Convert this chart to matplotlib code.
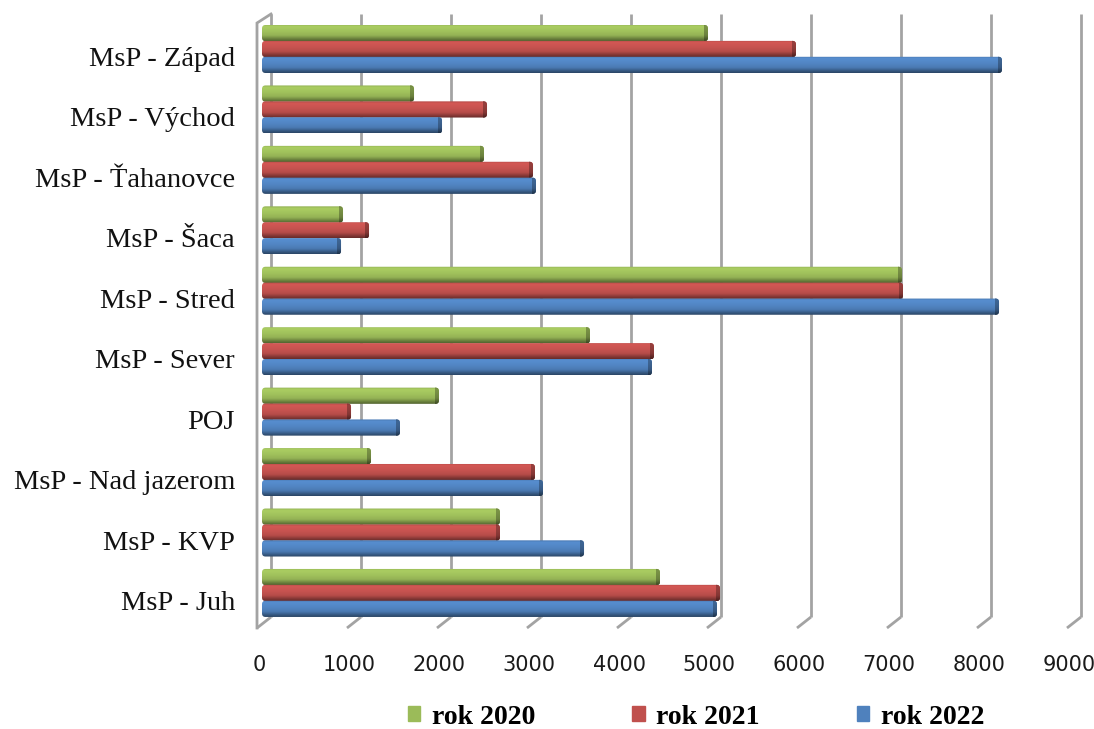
import numpy as np
import matplotlib
matplotlib.use("Agg")
import matplotlib.pyplot as plt
from matplotlib.patches import FancyBboxPatch, Patch
from matplotlib.transforms import Affine2D
from matplotlib.colors import to_rgb

categories = ["MsP - Západ", "MsP - Východ", "MsP - Ťahanovce", "MsP - Šaca", "MsP - Stred",
              "MsP - Sever", "POJ", "MsP - Nad jazerom", "MsP - KVP", "MsP - Juh"]
rok_2020 = [4933, 1667, 2444, 878, 7089, 3622, 1944, 1189, 2622, 4400]
rok_2021 = [5911, 2478, 2989, 1167, 7100, 4333, 967, 3011, 2622, 5067]
rok_2022 = [8200, 1978, 3022, 856, 8167, 4311, 1511, 3100, 3556, 5033]
series = [("rok 2020", rok_2020, "#9bbb59"), ("rok 2021", rok_2021, "#c0504d"), ("rok 2022", rok_2022, "#4f81bd")]
xticks = [0, 1000, 2000, 3000, 4000, 5000, 6000, 7000, 8000, 9000]

W, H = 1094, 729
fig = plt.figure(figsize=(W / 100, H / 100), dpi=100)
ax = fig.add_axes([0, 0, 1, 1])
ppx = 0.09          # pixels per unit
x0 = 264            # pixel of value 0 on the bar plane
y0, dy = 49.0, 60.44
ax.set_xlim(-x0 / ppx, (W - x0) / ppx)
ax.set_ylim((H - y0) / dy, -y0 / dy)
ax.axis("off")

grid = "#a3a3a3"
back = ax.transData + Affine2D().translate(7, 0)
ytop = (14 - y0) / dy
ybot = (617 - y0) / dy
ylow = (628 - y0) / dy
for v in xticks:
    ax.plot([v, v], [ytop, ybot], color=grid, lw=2.0, transform=back, zorder=1, solid_capstyle="butt")
    ax.plot([v + 7 / ppx, v - 7 / ppx], [ybot, ylow], color=grid, lw=2.0, zorder=1, solid_capstyle="butt")
    ax.text(v - 5 / ppx, (665 - y0) / dy, f"{v}", ha="center", va="center", fontsize=15,
            family="DejaVu Sans", color="#1a1a1a")
# side wall
ax.plot([-7 / ppx, -7 / ppx, 7 / ppx], [ylow, (23 - y0) / dy, ytop], color=grid, lw=2.0, zorder=1,
        solid_joinstyle="miter")

stops = np.array([0.0, 0.12, 0.4, 0.68, 0.87, 1.0])
shade = np.array([0.95, 1.1, 1.04, 0.95, 0.7, 0.55])
bar_h = 16.2 / dy
step = 15.9 / dy
ts = np.linspace(0, 1, 24)
def gradient(color, factor=1.0):
    f = np.interp(ts, stops, shade) * factor
    return np.clip(np.outer(f, to_rgb(color)).reshape(len(ts), 1, 3), 0, 1)

for s, (name, vals, col) in enumerate(series):
    for i, v in enumerate(vals):
        yc = i + (s - 1) * step
        top, bot = yc - bar_h / 2, yc + bar_h / 2
        clip = FancyBboxPatch((-2 / ppx, top), v + 2 / ppx, bar_h,
                              boxstyle=f"round,pad=0,rounding_size={3.5 / ppx}",
                              mutation_aspect=(1 / dy) / (1 / ppx),
                              transform=ax.transData, fc="none", ec="none")
        ax.add_patch(clip)
        im = ax.imshow(gradient(col), extent=[-2 / ppx, v, bot, top], aspect="auto", zorder=3 + s * 0.1,
                       interpolation="bilinear")
        im.set_clip_path(clip)
        cap = ax.imshow(gradient(col, 0.72), extent=[v - 4 / ppx, v, bot, top], aspect="auto", zorder=3.05 + s * 0.1,
                        interpolation="bilinear")
        cap.set_clip_path(clip)

ax.set_xlim(-x0 / ppx, (W - x0) / ppx)
ax.set_ylim((H - y0) / dy, -y0 / dy)

for i, c in enumerate(categories):
    ax.text(-29 / ppx, i + 10.5 / dy, c, ha="right", va="center", fontsize=20.5, family="Liberation Serif",
            color="#111111")

handles = [Patch(color=c, label=n) for n, _, c in series]
fig.legend(handles=handles, loc="center", bbox_to_anchor=(696 / W, 1 - 717 / H), ncol=3, frameon=False,
           handlelength=0.45, handleheight=0.45, handletextpad=0.41, columnspacing=3.5,
           borderpad=0, prop={"family": "Liberation Serif", "weight": "bold", "size": 20})
fig.savefig("out.png", dpi=100)
